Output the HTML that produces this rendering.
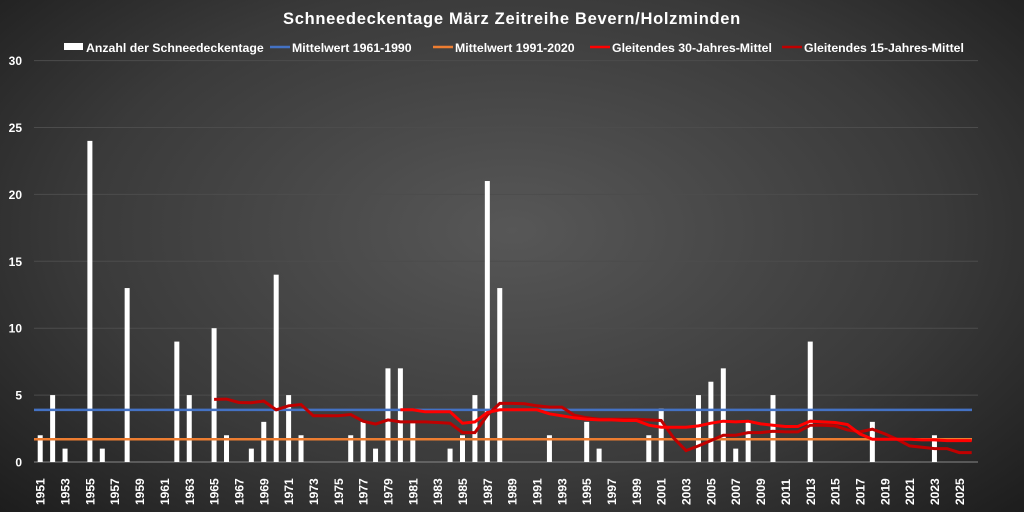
<!DOCTYPE html>
<html><head><meta charset="utf-8"><style>
html,body{margin:0;padding:0;width:1024px;height:512px;overflow:hidden}
body{background:radial-gradient(ellipse 70% 80% at 50% 45%,#575757 0%,#3a3a3a 60%,#1c1c1c 100%);font-family:"Liberation Sans",sans-serif}
</style></head><body>
<svg id="s" width="1024" height="512" xmlns="http://www.w3.org/2000/svg" style="position:absolute;left:0;top:0"></svg>
<script>
const s=document.getElementById('s');
const X0=34,SW=12.42,Y0=462,U=13.38;
const cx=y=>X0+SW*(y-1951+0.5), cy=v=>Y0-v*U;
let h='';
h+=`<text x="512" y="24" fill="#fff" font-size="16.5" font-weight="bold" text-anchor="middle" letter-spacing="0.7">Schneedeckentage März Zeitreihe Bevern/Holzminden</text>`;
for(let v=0;v<=30;v+=5){const y=cy(v);
 if(v>0)h+=`<line x1="34" x2="978" y1="${y}" y2="${y}" stroke="#4c4c4c" stroke-width="1"/>`;
 h+=`<text x="22" y="${y+4.5}" fill="#fff" font-size="12" font-weight="bold" text-anchor="end">${v}</text>`;}
h+=`<line x1="34" x2="978" y1="${Y0}" y2="${Y0}" stroke="#888" stroke-width="1"/>`;
const bars={1951:2,1952:5,1953:1,1955:24,1956:1,1958:13,1962:9,1963:5,1965:10,1966:2,1968:1,1969:3,1970:14,1971:5,1972:2,1976:2,1977:3,1978:1,1979:7,1980:7,1981:3,1984:1,1985:2,1986:5,1987:21,1988:13,1992:2,1995:3,1996:1,2000:2,2001:4,2004:5,2005:6,2006:7,2007:1,2008:3,2010:5,2013:9,2018:3,2023:2};
for(const k in bars){const x=cx(+k);h+=`<rect x="${x-2.5}" y="${cy(bars[k])}" width="5" height="${bars[k]*U}" fill="#fff"/>`;}
h+=`<line x1="34" x2="972" y1="${cy(3.9)}" y2="${cy(3.9)}" stroke="#4472c4" stroke-width="2.5"/>`;
h+=`<line x1="34" x2="972" y1="${cy(1.7)}" y2="${cy(1.7)}" stroke="#ed7d31" stroke-width="2.5"/>`;
const r15=[4.68,4.7,4.45,4.43,4.55,3.9,4.2,4.3,3.45,3.45,3.45,3.55,3.05,2.83,3.15,3.0,3.0,3.0,2.95,2.9,2.2,2.2,3.5,4.38,4.38,4.35,4.2,4.1,4.1,3.5,3.3,3.2,3.2,3.2,3.2,3.15,3.1,1.8,0.85,1.2,1.6,2.0,2.0,2.2,2.2,2.3,2.25,2.25,2.75,2.75,2.7,2.4,2.25,2.45,2.1,1.7,1.2,1.1,1.0,1.0,0.7,0.7];
const r30=[3.9,3.9,3.75,3.75,3.75,2.9,3.0,3.7,3.9,3.9,3.9,3.9,3.6,3.45,3.3,3.2,3.15,3.15,3.1,3.1,2.75,2.6,2.6,2.6,2.7,2.9,3.05,3.0,3.05,2.85,2.75,2.65,2.65,3.05,3.0,2.95,2.8,2.1,1.7,1.7,1.7,1.7,1.65,1.65,1.6,1.6,1.6];
const pl=(arr,start)=>arr.map((v,i)=>`${cx(start+i).toFixed(1)},${cy(v).toFixed(1)}`).join(' ');
h+=`<polyline points="${pl(r15,1965)}" fill="none" stroke="#c00000" stroke-width="3"/>`;
h+=`<polyline points="${pl(r30,1980)}" fill="none" stroke="#ff0000" stroke-width="3"/>`;
for(let y=1951;y<=2025;y+=2){const x=cx(y)+4.5;h+=`<text transform="translate(${x},505) rotate(-90)" fill="#fff" font-size="12" font-weight="bold">${y}</text>`;}
const ly=52;
h+=`<rect x="64" y="${ly-9}" width="19" height="7" fill="#fff"/><text x="86" y="${ly}" fill="#fff" font-size="12.3" font-weight="bold">Anzahl der Schneedeckentage</text>`;
const lg=[[270,'#4472c4','Mittelwert 1961-1990'],[433,'#ed7d31','Mittelwert 1991-2020'],[590,'#ff0000','Gleitendes 30-Jahres-Mittel'],[782,'#c00000','Gleitendes 15-Jahres-Mittel']];
for(const [x,c,t] of lg){h+=`<line x1="${x}" x2="${x+20}" y1="${ly-5}" y2="${ly-5}" stroke="${c}" stroke-width="2.5"/><text x="${x+22}" y="${ly}" fill="#fff" font-size="12.3" font-weight="bold">${t}</text>`;}
s.innerHTML=h;
</script>
</body></html>
